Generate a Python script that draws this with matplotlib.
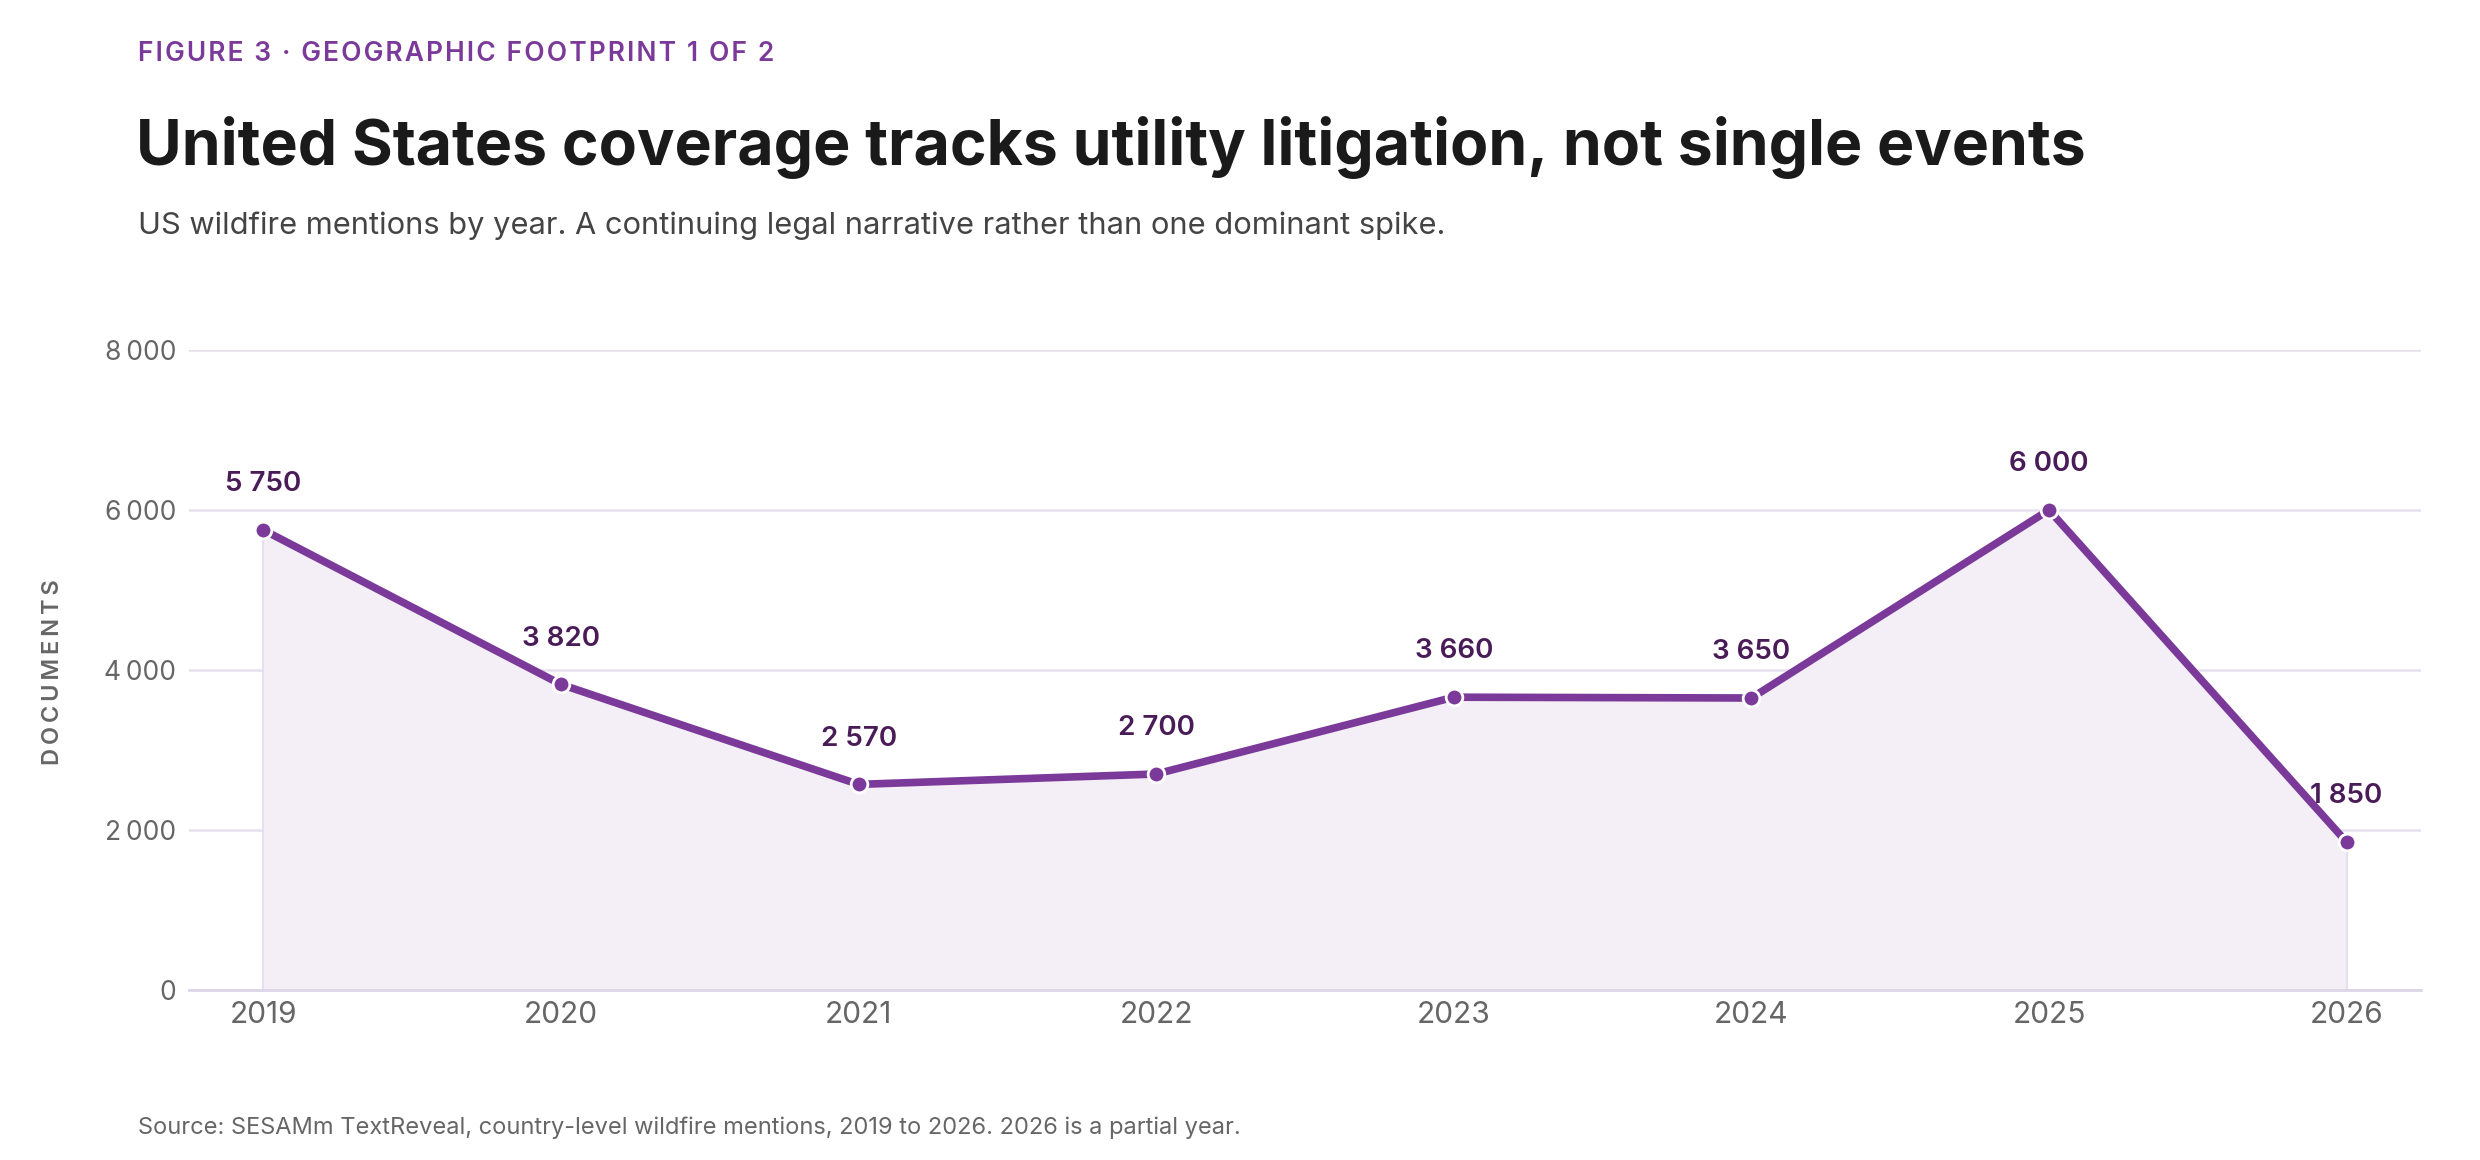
import matplotlib
matplotlib.use("Agg")
import matplotlib.pyplot as plt

plt.rcParams['font.family'] = ['Inter', 'DejaVu Sans']

years = [2019, 2020, 2021, 2022, 2023, 2024, 2025, 2026]
docs = [5750, 3820, 2570, 2700, 3660, 3650, 6000, 1850]
yticks = [0, 2000, 4000, 6000, 8000]

purple = "#7b3a9a"
dark_purple = "#4a1c57"
grid_col = "#e6e0ee"
fill_col = "#f4eff6"
gray = "#666666"

W, H = 2480, 1160
fig = plt.figure(figsize=(W / 100, H / 100), dpi=100)
ax = fig.add_axes([189 / W, 1 - 990 / H, (2421 - 189) / W, (990 - 350) / H])

def fmt(v, sep="\u2009"):
    return f"{v:,}".replace(",", sep)

def spaced(s, sep="\u200a"):
    return sep.join(s)

ax.fill_between(years, docs, 0, color=fill_col, lw=0, zorder=1)
ax.plot([years[0], years[0]], [0, docs[0]], color=grid_col, lw=1.5, zorder=1)
ax.plot([years[-1], years[-1]], [0, docs[-1]], color=grid_col, lw=1.5, zorder=1)
ax.plot(years, docs, color=purple, lw=5.5, solid_joinstyle='round', zorder=3)
ax.plot(years, docs, 'o', color=purple, ms=12, mec='white', mew=2, zorder=4)

for x, y in zip(years, docs):
    ax.annotate(fmt(y, " "), (x, y), xytext=(0, 33), textcoords='offset points',
                ha='center', va='center', fontsize=20, fontweight='semibold',
                color=dark_purple, zorder=5)

ax.set_xlim(2018.75, 2026.25)
ax.set_ylim(0, 8000)
ax.set_xticks(years)
ax.set_xticklabels([str(y) for y in years])
ax.set_yticks(yticks)
ax.set_yticklabels([fmt(v) for v in yticks])
ax.tick_params(axis='both', length=0, labelcolor=gray)
ax.tick_params(axis='x', pad=8, labelsize=21.5)
ax.tick_params(axis='y', pad=9, labelsize=19)
ax.grid(axis='y', color=grid_col, lw=1.8, zorder=0)
ax.set_axisbelow(True)
for s in ['top', 'right', 'left']:
    ax.spines[s].set_visible(False)
ax.spines['bottom'].set_color("#ddd5e8")
ax.spines['bottom'].set_linewidth(2)

fig.text(53 / W, 1 - 672 / H, spaced("DOCUMENTS", "\u2009"), rotation=90,
         ha='center', va='center', fontsize=17, fontweight='semibold', color=gray)

fig.text(138 / W, 1 - 61 / H, spaced("FIGURE 3 · GEOGRAPHIC FOOTPRINT 1 OF 2"),
         fontsize=19, fontweight='semibold', color=purple, va='baseline')
fig.text(136 / W, 1 - 165 / H, "United States coverage tracks utility litigation, not single events",
         fontsize=45, fontweight='bold', color="#1a1a1a", va='baseline')
fig.text(138 / W, 1 - 234 / H,
         "US wildfire mentions by year. A continuing legal narrative rather than one dominant spike.",
         fontsize=22.2, color="#444444", va='baseline')
fig.text(138 / W, 1 - 1134 / H,
         "Source: SESAMm TextReveal, country-level wildfire mentions, 2019 to 2026. 2026 is a partial year.",
         fontsize=17, color=gray, va='baseline')

fig.savefig("out.png", dpi=100, facecolor='white')
